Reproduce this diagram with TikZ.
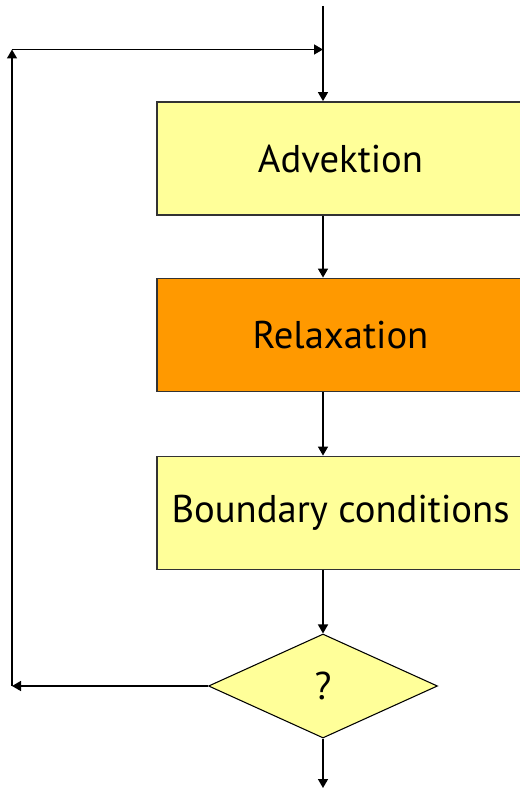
\documentclass[tikz,border=0pt]{standalone}
\usepackage{fontspec}
\setmainfont{PT Sans}
\usetikzlibrary{arrows.meta, positioning, shapes.geometric}

\definecolor{paleyellow}{HTML}{FFFF99}
\definecolor{deeporange}{HTML}{FF9900}

\tikzset{
  flow/.style={line width=1.1pt, -{Triangle[length=6.75pt, width=7.5pt]}},
  stepbox/.style={draw=black!80, line width=1.1pt, minimum width=275pt, minimum height=85pt,
    inner sep=0pt, font=\fontsize{29}{34}\selectfont},
  test/.style={diamond, draw, line width=0.8pt, fill=paleyellow, aspect=2.2, inner sep=0pt,
    minimum width=171.75pt, minimum height=78pt, font=\fontsize{29}{34}\selectfont}
}

\begin{document}
\begin{tikzpicture}[x=0.75pt, y=-0.75pt]
\useasboundingbox (0,0) rectangle (520,791);
\coordinate (entry) at (323,6);
\coordinate (exit) at (323,788);
\node[stepbox, fill=paleyellow] (advect) at (340.5,158.5) {Advektion};
\node[stepbox, fill=deeporange] (relax) at (340.5,335) {Relaxation};
\node[stepbox, fill=paleyellow] (bound) at (340.5,513) {Boundary conditions};
\node[test] (check) at (323,686) {?};
\coordinate (corner) at (12,49.5);

\draw[flow] (entry) -- (entry |- advect.north);
\foreach \a/\b in {advect/relax, relax/bound} {
  \draw[flow] (entry |- \a.south) -- (entry |- \b.north);
}
\draw[flow] (entry |- bound.south) -- (check.north);
\draw[flow] (check.south) -- (exit);
% loop back
\draw[flow] (check.west) -- (check.west -| corner);
\draw[flow] (check.west -| corner) -- (corner);
\draw[flow] (corner) -- (corner -| entry);
\end{tikzpicture}
\end{document}
